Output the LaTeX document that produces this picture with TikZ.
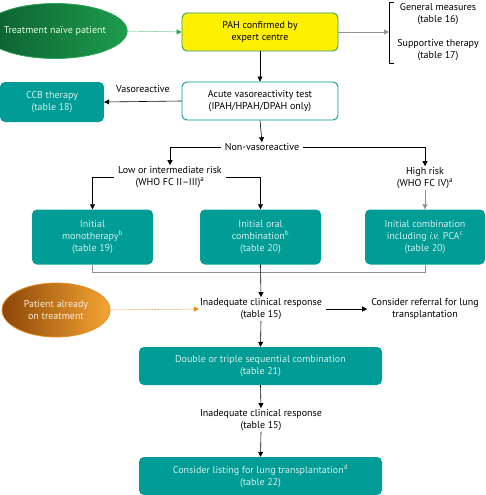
\documentclass[tikz,border=0pt]{standalone}
\usepackage{fontspec}
\setmainfont{PT Sans}
\usetikzlibrary{shapes.geometric,arrows.meta,positioning}
\definecolor{teal1}{HTML}{009C95}
\definecolor{tealtxt}{HTML}{D2EFEC}
\definecolor{yel}{HTML}{FFF000}
\definecolor{yelb}{HTML}{2E9E62}
\definecolor{grn1}{HTML}{0B5E2E}
\definecolor{grn2}{HTML}{1E9C4E}
\definecolor{grnb}{HTML}{2BA558}
\definecolor{org1}{HTML}{8C4606}
\definecolor{org2}{HTML}{F5A534}
\definecolor{orgb}{HTML}{E88C22}
\definecolor{lgray}{HTML}{909090}
\begin{document}
\begin{tikzpicture}[x=1pt,y=-1pt,
  every node/.style={font=\fontsize{10}{12}\selectfont, align=center, inner sep=1pt},
  tealbox/.style={rectangle, rounded corners=5pt, fill=teal1, text=tealtxt},
  wbox/.style={rectangle, rounded corners=5pt, draw=teal1, line width=0.9pt, fill=white},
  ybox/.style={rectangle, rounded corners=5pt, draw=yelb, line width=0.9pt, fill=yel},
  lbl/.style={text=black},
  arr/.style={-{Triangle[length=5pt,width=5pt]}, line width=0.6pt},
  garr/.style={-{Triangle[length=5pt,width=5pt]}, line width=0.6pt, draw=lgray},
  gline/.style={line width=0.6pt, draw=lgray},
]
\useasboundingbox (0,0) rectangle (486,495);

% top row
\node[ellipse, minimum width=110pt, minimum height=55pt, inner sep=0pt, left color=grn1, right color=grn2, draw=grnb, line width=0.8pt, text=white!88!green] (naive) at (55,31) {Treatment naïve patient};
\node[ybox, minimum width=156pt, minimum height=38pt] (pah) at (260,32) {PAH confirmed by\\expert centre};
\coordinate (brk) at (389,32);
\draw[line width=0.6pt] (394,2) -- (389,2) -- (389,63) -- (394,63);
\node[lbl] (gm) at (438,14) {General measures\\(table 16)};
\node[lbl] (st) at (438,50) {Supportive therapy\\(table 17)};
\draw[-{Triangle[length=5pt,width=5pt]}, line width=0.6pt, draw=grnb, densely dotted, fill=grnb] (naive.east) -- (pah.west);
\draw[garr] (pah.east) -- (brk);

% second row
\node[wbox, minimum width=156pt, minimum height=38pt] (acute) at (260,101) {Acute vasoreactivity test\\(IPAH/HPAH/DPAH only)};
\node[tealbox, minimum width=104pt, minimum height=40pt] (ccb) at (52,102) {CCB therapy\\(table 18)};
\draw[arr] (pah.south) -- (acute.north);
\draw[arr] (acute.west) -- (ccb.east);
\node[lbl] (vaso) at (143,89) {Vasoreactive};

% non-vasoreactive
\node[lbl] (nonv) at (262,147) {Non-vasoreactive};
\draw[arr] (acute.south) -- (nonv.north);
\node[lbl] (low) at (170,177) {Low or intermediate risk\\(WHO FC II–III)\textsuperscript{a}};
\node[lbl] (high) at (425,178) {High risk\\(WHO FC IV)\textsuperscript{a}};
\draw[arr] ([xshift=-3pt]nonv.west) -| (low.north);
\draw[arr] ([xshift=3pt]nonv.east) -| (high.north);

% three boxes
\node[tealbox, minimum width=121pt, minimum height=55pt] (b1) at (92.5,237) {Initial\\monotherapy\textsuperscript{b}\\(table 19)};
\node[tealbox, minimum width=121pt, minimum height=55pt] (b2) at (260.5,237) {Initial oral\\combination\textsuperscript{b}\\(table 20)};
\node[tealbox, minimum width=120pt, minimum height=55pt] (b3) at (425,237) {Initial combination\\including \textit{i.v.} PCA\textsuperscript{c}\\(table 20)};
\draw[arr] ([xshift=-3pt]low.west) -| (b1.north);
\draw[arr] ([xshift=3pt]low.east) -| (b2.north);
\draw[garr] (high.south) -- (b3.north);
\coordinate (m1) at (92.5,272);
\coordinate (m3) at (425,272);
\draw[gline] (b1.south) -- (m1) -- (m3) -- (b3.south);

% already on treatment
\node[ellipse, minimum width=108pt, minimum height=54pt, inner sep=0pt, left color=org1, right color=org2, draw=orgb, line width=0.8pt, text=white!85!orange] (already) at (56,310) {Patient already\\on treatment};
\node[lbl] (inad1) at (261,309) {Inadequate clinical response\\(table 15)};
\node[lbl] (refer) at (425,309) {Consider referral for lung\\transplantation};
\draw[arr] (b2.south) -- (inad1.north);
\draw[-{Triangle[length=5pt,width=5pt]}, line width=0.6pt, draw=orgb, densely dotted, fill=orgb] (already.east) -- (inad1.west);
\draw[arr] ([xshift=3pt]inad1.east) -- ([xshift=-3pt]refer.west);

\node[tealbox, minimum width=243pt, minimum height=38pt] (seq) at (260.5,366) {Double or triple sequential combination\\(table 21)};
\draw[arr] (inad1.south) -- (seq.north);
\node[lbl] (inad2) at (261,420) {Inadequate clinical response\\(table 15)};
\draw[arr] (seq.south) -- (inad2.north);
\node[tealbox, minimum width=243pt, minimum height=38pt] (list) at (260.5,476) {Consider listing for lung transplantation\textsuperscript{d}\\(table 22)};
\draw[arr] (inad2.south) -- (list.north);
\end{tikzpicture}
\end{document}
